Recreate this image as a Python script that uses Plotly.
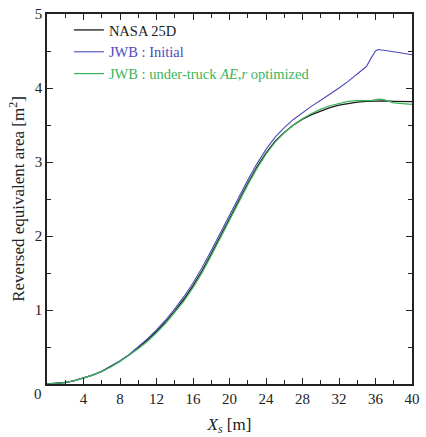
import plotly.graph_objects as go

# Station positions along the signature [m]
xs_nasa = [0, 1, 2, 3, 4, 5, 6, 7, 8, 9, 10, 11, 12, 13, 14, 15, 16, 17, 18, 19, 20,
           21, 22, 23, 24, 25, 26, 27, 28, 29, 30, 31, 32, 33, 34, 35, 36, 37, 38, 39, 40]
area_nasa = [0.0, 0.005, 0.02, 0.045, 0.08, 0.12, 0.17, 0.235, 0.31, 0.395, 0.49, 0.595,
             0.71, 0.84, 0.985, 1.145, 1.325, 1.53, 1.76, 2.0, 2.24, 2.48, 2.71, 2.93,
             3.12, 3.28, 3.40, 3.50, 3.58, 3.64, 3.69, 3.735, 3.77, 3.795, 3.81, 3.82,
             3.825, 3.825, 3.82, 3.82, 3.815]

xs_initial = [0, 1, 2, 3, 4, 5, 6, 7, 8, 9, 10, 11, 12, 13, 14, 15, 16, 17, 18, 19, 20,
              21, 22, 23, 24, 25, 26, 27, 28, 29, 30, 31, 32, 33, 34, 34.5, 35, 35.5,
              36, 36.3, 37, 38, 39, 40]
area_initial = [0.0, 0.005, 0.02, 0.045, 0.08, 0.12, 0.17, 0.235, 0.31, 0.395, 0.50, 0.61,
                0.73, 0.865, 1.015, 1.18, 1.365, 1.575, 1.805, 2.045, 2.285, 2.525, 2.755,
                2.975, 3.17, 3.335, 3.465, 3.575, 3.67, 3.755, 3.835, 3.915, 4.0, 4.09,
                4.19, 4.25, 4.29, 4.40, 4.50, 4.52, 4.51, 4.49, 4.47, 4.45]

xs_opt = [0, 1, 2, 3, 4, 5, 6, 7, 8, 9, 10, 11, 12, 13, 14, 15, 16, 17, 18, 19, 20,
          21, 22, 23, 24, 25, 26, 27, 28, 29, 30, 31, 32, 33, 34, 34.5, 35, 35.5, 36,
          36.5, 37, 37.5, 38, 39, 40]
area_opt = [0.0, 0.005, 0.02, 0.045, 0.08, 0.12, 0.17, 0.23, 0.305, 0.385, 0.475, 0.575,
            0.69, 0.82, 0.965, 1.12, 1.30, 1.505, 1.735, 1.975, 2.215, 2.455, 2.69, 2.91,
            3.105, 3.27, 3.395, 3.50, 3.585, 3.655, 3.715, 3.76, 3.795, 3.82, 3.83, 3.83,
            3.82, 3.83, 3.845, 3.85, 3.84, 3.815, 3.80, 3.79, 3.78]

x_tick_vals = [4, 8, 12, 16, 20, 24, 28, 32, 36, 40]
y_tick_vals = [1, 2, 3, 4, 5]

BLACK = "#1a1a1a"
BLUE = "#4a4ab8"
GREEN = "#3cb45a"
FONT = "Liberation Serif"
INK = "#222222"

fig = go.Figure()
fig.add_trace(go.Scatter(x=xs_nasa, y=area_nasa, mode="lines",
                         line=dict(color=BLACK, width=1.3),
                         name="NASA 25D"))
fig.add_trace(go.Scatter(x=xs_initial, y=area_initial, mode="lines",
                         line=dict(color=BLUE, width=1.1),
                         name=f"<span style='color:{BLUE}'>JWB : Initial</span>"))
fig.add_trace(go.Scatter(x=xs_opt, y=area_opt, mode="lines",
                         line=dict(color=GREEN, width=1.2),
                         name=f"<span style='color:{GREEN}'>JWB : under-truck <i>AE,r</i> optimized</span>"))

fig.update_xaxes(
    range=[0, 40], tickmode="array", tickvals=x_tick_vals,
    showline=True, linecolor=INK, linewidth=1.5, mirror="allticks",
    ticks="inside", ticklen=6, tickwidth=1.2, tickcolor=INK,
    showgrid=False, zeroline=False,
    tickfont=dict(family=FONT, size=15, color=INK),
    minor=dict(ticks="inside", ticklen=4, tickwidth=1.2, tickcolor=INK, dtick=2, tick0=0),
    title=dict(text="<i>X<sub>s</sub></i> [m]", font=dict(family=FONT, size=17, color=INK),
               standoff=12),
)
fig.update_yaxes(
    range=[0, 5], tickmode="array", tickvals=y_tick_vals,
    showline=True, linecolor=INK, linewidth=1.5, mirror="allticks",
    ticks="inside", ticklen=6, tickwidth=1.2, tickcolor=INK,
    showgrid=False, zeroline=False,
    tickfont=dict(family=FONT, size=15, color=INK),
    minor=dict(ticks="inside", ticklen=4, tickwidth=1.2, tickcolor=INK, dtick=0.5, tick0=0),
    title=dict(text="Reversed equivalent area [m<sup>2</sup>]",
               font=dict(family=FONT, size=17, color=INK), standoff=6),
)

# shared origin label at the lower-left corner
fig.add_annotation(x=0, y=0, xref="x", yref="y", text="0", showarrow=False,
                   xshift=-9, yshift=-10, font=dict(family=FONT, size=15, color=INK))

fig.update_layout(
    width=426, height=437,
    font=dict(family=FONT, size=15, color=INK),
    margin=dict(l=47, r=6, t=14, b=51),
    plot_bgcolor="white", paper_bgcolor="white",
    showlegend=True,
    legend=dict(x=0.06, y=1.0, xanchor="left", yanchor="top",
                bgcolor="rgba(0,0,0,0)", tracegroupgap=0,
                font=dict(family=FONT, size=14.5, color=BLACK), itemwidth=30),
)

fig.write_html("out.html")
